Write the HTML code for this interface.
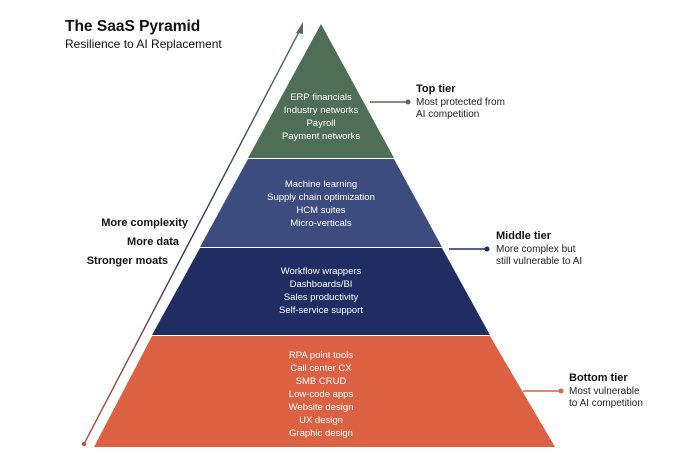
<!DOCTYPE html>
<html><head><meta charset="utf-8"><style>
body{margin:0;background:#fff;}
svg{display:block;font-family:"Liberation Sans",Arial,sans-serif;}
.t{fill:#fff;font-size:9.5px;text-anchor:middle;}
.h{font-size:11px;font-weight:bold;fill:#111;}
.s{font-size:10px;fill:#222;}
</style></head><body>
<svg width="675" height="473" viewBox="0 0 675 473">
<defs><linearGradient id="g" x1="0" y1="1" x2="0" y2="0"><stop offset="0" stop-color="#c0513a"/><stop offset="0.5" stop-color="#2a3560"/><stop offset="1" stop-color="#4e6e55"/></linearGradient></defs>
<text x="65" y="31" font-size="15.5" font-weight="bold" fill="#111">The SaaS Pyramid</text>
<text x="65" y="48" font-size="12" fill="#111">Resilience to AI Replacement</text>
<polygon points="321,24 394,158 248,158" fill="#4e6e55"/>
<polygon points="248,159 394,159 442,247 200,247" fill="#3d4c7e"/>
<polygon points="200,248 442,248 490,335 152,335" fill="#1f2d63"/>
<polygon points="152,336 490,336 555,447 94,447" fill="#dc6142"/>
<line x1="84" y1="444" x2="300" y2="30" stroke="url(#g)" stroke-width="1.4"/>
<polygon points="303,22 296,33 303,34" fill="#4e6e55"/>
<circle cx="84" cy="444" r="2.2" fill="#c0513a"/>
<text x="188" y="226" class="h" text-anchor="end">More complexity</text>
<text x="179" y="245" class="h" text-anchor="end">More data</text>
<text x="168" y="264" class="h" text-anchor="end">Stronger moats</text>
<g class="t">
<text x="321" y="100">ERP financials</text><text x="321" y="113">Industry networks</text><text x="321" y="126">Payroll</text><text x="321" y="139">Payment networks</text>
<text x="321" y="187">Machine learning</text><text x="321" y="200">Supply chain optimization</text><text x="321" y="213">HCM suites</text><text x="321" y="226">Micro-verticals</text>
<text x="321" y="274">Workflow wrappers</text><text x="321" y="287">Dashboards/BI</text><text x="321" y="300">Sales productivity</text><text x="321" y="313">Self-service support</text>
<text x="321" y="358">RPA point tools</text><text x="321" y="371">Call center CX</text><text x="321" y="384">SMB CRUD</text><text x="321" y="397">Low-code apps</text><text x="321" y="410">Website design</text><text x="321" y="423">UX design</text><text x="321" y="436">Graphic design</text>
</g>
<line x1="370" y1="102" x2="408" y2="102" stroke="#4e6e55" stroke-width="1.5"/><circle cx="408" cy="102" r="2.5" fill="#4e6e55"/>
<text x="416" y="92" class="h">Top tier</text><text x="416" y="105" class="s">Most protected from</text><text x="416" y="117" class="s">AI competition</text>
<line x1="449" y1="249" x2="487" y2="249" stroke="#1f2d63" stroke-width="1.5"/><circle cx="487" cy="249" r="2.5" fill="#1f2d63"/>
<text x="496" y="239" class="h">Middle tier</text><text x="496" y="252" class="s">More complex but</text><text x="496" y="264" class="s">still vulnerable to AI</text>
<line x1="523" y1="391" x2="561" y2="391" stroke="#dc6142" stroke-width="1.5"/><circle cx="561" cy="391" r="2.5" fill="#dc6142"/>
<text x="569" y="381" class="h">Bottom tier</text><text x="569" y="394" class="s">Most vulnerable</text><text x="569" y="406" class="s">to AI competition</text>
</svg>
</body></html>
